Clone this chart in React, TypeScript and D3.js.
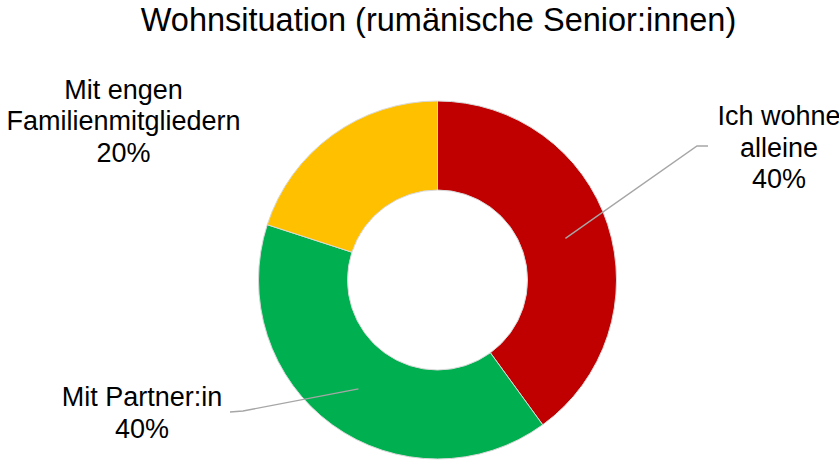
import React from "react";
import * as d3 from "d3";

const title = "Wohnsituation (rumänische Senior:innen)";
const categories = ["Ich wohne alleine", "Mit Partner:in", "Mit engen Familienmitgliedern"];
const values = [40, 40, 20];
const labelLines = [
  ["Ich wohne", "alleine", "40%"],
  ["Mit Partner:in", "40%"],
  ["Mit engen", "Familienmitgliedern", "20%"],
];
const colors = ["#C00000", "#00B050", "#FFC000"];

const W = 839;
const H = 460;
const CX = 437.5;
const CY = 280;
const R_OUT = 179;
const R_IN = 90;
const FONT = "'Liberation Sans', Arial, sans-serif";

// label layout (x center, first baseline) and leader elbow / end points
const labelLayout = [
  { x: 779, y: 125, elbow: [697, 146], end: [708, 146] },
  { x: 142, y: 406, elbow: [243, 411], end: [230, 412] },
  { x: 123.5, y: 98.5, elbow: null, end: null },
];

export default function App() {
  const data = categories.map((c, i) => ({ c, v: values[i], i }));
  const pie = d3.pie<any>().sort(null).value((d: any) => d.v);
  const arcs = pie(data);
  const arc = d3.arc<any>().innerRadius(R_IN).outerRadius(R_OUT);
  const lineGen = d3.line();

  return (
    <div style={{ position: "absolute", left: 0, top: 0 }}>
      <svg width={W} height={H} style={{ display: "block", background: "#fff" }}>
        <text
          x={438.5}
          y={31}
          textAnchor="middle"
          fontFamily={FONT}
          fontSize={32.5}
          fill="#000"
        >
          {title}
        </text>
        <g transform={`translate(${CX},${CY})`}>
          {arcs.map((a, i) => (
            <path
              key={i}
              d={arc(a) as string}
              fill={colors[i]}
              stroke="#d9d9d9"
              strokeWidth={1}
            />
          ))}
        </g>
        {arcs.map((a, i) => {
          const L = labelLayout[i];
          if (!L.elbow) return null;
          const c = arc.centroid(a);
          const pts: [number, number][] = [
            [CX + c[0], CY + c[1]],
            L.elbow as [number, number],
            L.end as [number, number],
          ];
          return (
            <path
              key={"l" + i}
              d={lineGen(pts) as string}
              fill="none"
              stroke="#a6a6a6"
              strokeWidth={1.4}
            />
          );
        })}
        {labelLines.map((lines, i) => (
          <text
            key={"t" + i}
            textAnchor="middle"
            fontFamily={FONT}
            fontSize={27}
            fill="#000"
          >
            {lines.map((ln, j) => (
              <tspan key={j} x={labelLayout[i].x} y={labelLayout[i].y + j * 31.6}>
                {ln}
              </tspan>
            ))}
          </text>
        ))}
      </svg>
    </div>
  );
}
